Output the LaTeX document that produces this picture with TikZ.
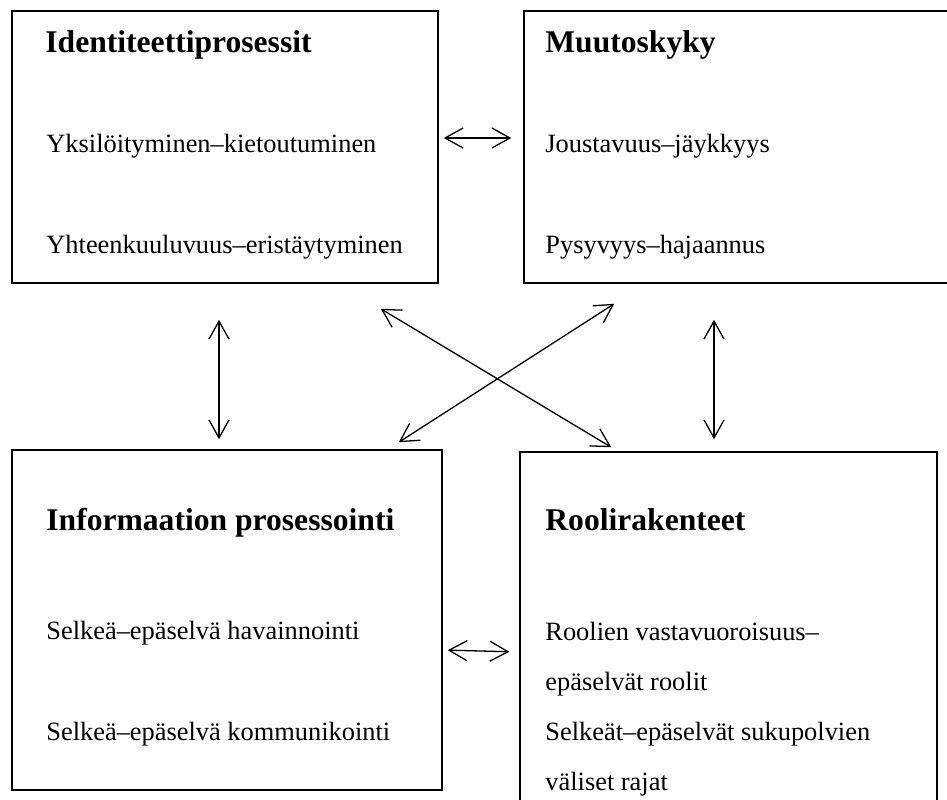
\documentclass[tikz,border=0pt]{standalone}
\usepackage{fontspec}
\setmainfont{Liberation Serif}
\usetikzlibrary{arrows.meta}
\tikzset{box/.style={draw,line width=.75pt,inner sep=0pt},
  biarr/.style={{Straight Barb[length=9pt,width=10pt]}-{Straight Barb[length=9pt,width=10pt]},line width=.65pt},
  head/.style={anchor=base west,inner sep=0pt,font=\fontsize{15.8}{19}\selectfont\bfseries},
  txt/.style={anchor=base west,inner sep=0pt,font=\fontsize{13.2}{16}\selectfont}}
\begin{document}
\begin{tikzpicture}[x=.5pt,y=-.5pt]
\useasboundingbox (0,0) rectangle (947,799);\clip (0,0) rectangle (947,799);
% boxes
\node[box,minimum width=213pt,minimum height=136pt] (ident) at (225,147) {};
\node[box,minimum width=233pt,minimum height=136pt] (muutos) at (757,147) {};
\node[box,minimum width=215pt,minimum height=170pt] (info) at (227,620) {};
\node[box,minimum width=208.5pt,minimum height=199pt] (roolit) at (728.5,651) {};
% texts
\node[head] (identhead) at (45,52) {Identiteettiprosessit};
\node[txt] (identa) at (46,152) {Yksilöityminen–kietoutuminen};
\node[txt] (identb) at (46,253) {Yhteenkuuluvuus–eristäytyminen};
\node[head] (muutoshead) at (545,52) {Muutoskyky};
\node[txt] (muutosa) at (545,152) {Joustavuus–jäykkyys};
\node[txt] (muutosb) at (545,253) {Pysyvyys–hajaannus};
\node[head] (infohead) at (46,530) {Informaation prosessointi};
\node[txt] (infoa) at (46,639) {Selkeä–epäselvä havainnointi};
\node[txt] (infob) at (46,740) {Selkeä–epäselvä kommunikointi};
\node[head] (roolithead) at (545,530) {Roolirakenteet};
\node[txt] (roolita) at (545,640) {Roolien vastavuoroisuus–};
\node[txt] (roolitb) at (545,690) {epäselvät roolit};
\node[txt] (roolitc) at (545,740) {Selkeät–epäselvät sukupolvien};
\node[txt] (roolitd) at (545,790) {väliset rajat};
% arrows
\draw[biarr,shorten <=2.5pt,shorten >=6pt] ([yshift=4.5pt]ident.east) -- ([yshift=4.5pt]muutos.west);
\draw[biarr,shorten <=2.5pt,shorten >=5pt] ([yshift=-15pt]info.east) -- ([yshift=-.5pt]roolit.west);
\draw[biarr,shorten <=18pt,shorten >=5pt] ([xshift=-3pt]ident.south) -- ([xshift=-4pt]info.north);
\draw[biarr,shorten <=18pt,shorten >=6pt] ([xshift=-21.5pt]muutos.south) -- ([xshift=-7.25pt]roolit.north);
\draw[biarr] ([shift={(-29pt,-12.5pt)}]ident.south east) -- ([shift={(46pt,2pt)}]roolit.north west);
\draw[biarr] ([shift={(-22pt,3.5pt)}]info.north east) -- ([shift={(45.5pt,-10pt)}]muutos.south west);
\end{tikzpicture}
\end{document}
